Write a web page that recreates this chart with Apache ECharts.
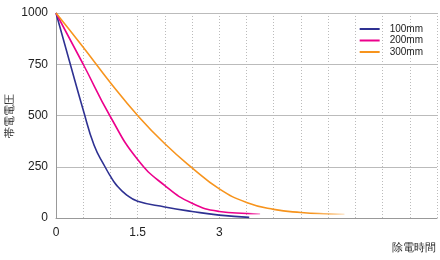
<!DOCTYPE html>
<html><head><meta charset="utf-8">
<script src="https://cdn.jsdelivr.net/npm/echarts@6/dist/echarts.min.js"></script>
<style>html,body{margin:0;padding:0;background:#fff}#c{width:440px;height:260px}</style>
</head><body><div id="c"></div>
<script>
const seriesNames = ['100mm', '200mm', '300mm'];
const xTickLabels = ['0', '1.5', '3'];
const yTickLabels = ['0', '250', '500', '750', '1000'];
const xAxisTitle = '除電時間';
const yAxisTitle = '帯電電圧';
const blue100 = [[0,1000],[0.25,762],[0.5,527],[0.7,355],[0.9,250],[1.0,204],[1.1,164],[1.3,112],[1.5,82],[2.0,54],[2.5,32],[3.0,14],[3.55,3]];
const magenta200 = [[0,1000],[0.5,750],[1.0,494],[1.5,285],[2.0,158],[2.5,72],[3.0,32],[3.5,22],[3.75,20]];
const orange300 = [[0,1000],[0.5,833],[1.0,660],[1.5,500],[2.0,362],[2.5,245],[3.0,142],[3.5,76],[4.0,42],[4.5,27],[5.0,20],[5.3,18]];

const colors = ['#2e3192', '#ec008c', '#f7941d'];
const font = "'Liberation Sans Narrow','Liberation Sans',sans-serif";
function fade(c, rgba, start) {
  return new echarts.graphic.LinearGradient(0, 0, 1, 0, [
    {offset: 0, color: c}, {offset: start, color: c}, {offset: 1, color: rgba}
  ]);
}
const chart = echarts.init(document.getElementById('c'), null, {renderer: 'canvas'});
chart.setOption({
  animation: false,
  backgroundColor: '#fff',
  grid: {left: 56, right: 3, top: 13, bottom: 42, containLabel: false, outerBoundsMode: 'none'},
  legend: {
    orient: 'vertical', right: 12, top: 19, itemGap: 1.5,
    itemWidth: 20, itemHeight: 2, icon: 'rect',
    textStyle: {fontSize: 10, fontFamily: font, color: '#222', padding: [0,0,0,5]},
    data: seriesNames
  },
  xAxis: {
    type: 'value', min: 0, max: 7, interval: 0.5,
    axisLine: {lineStyle: {color: '#999', width: 1}},
    axisTick: {show: false},
    axisLabel: {
      margin: 9, fontSize: 12, fontFamily: font, color: '#222',
      formatter: v => { const s = String(v); return xTickLabels.includes(s) ? s : ''; }
    },
    splitLine: {show: true, lineStyle: {color: '#bbb', type: [1, 2], width: 1}}
  },
  yAxis: {
    type: 'value', min: 0, max: 1000, interval: 250,
    name: yAxisTitle, nameLocation: 'middle', nameGap: 41, nameMoveOverlap: false,
    nameTextStyle: {fontSize: 11, fontFamily: font, color: '#222'},
    axisLine: {show: true, lineStyle: {color: '#999', width: 1}},
    axisTick: {show: false},
    axisLabel: {margin: 8, fontSize: 12, fontFamily: font, color: '#222',
      formatter: v => yTickLabels.includes(String(v)) ? String(v) : ''},
    splitLine: {show: true, lineStyle: {color: '#bbb', width: 1}}
  },
  graphic: [{
    type: 'text', right: 4, top: 242,
    style: {text: xAxisTitle, fontSize: 11, fontFamily: font, fill: '#222'}
  }],
  series: [
    {name: seriesNames[0], type: 'line', data: blue100, smooth: 0.5, showSymbol: false,
     color: colors[0], lineStyle: {width: 1.6, color: colors[0]}},
    {name: seriesNames[1], type: 'line', data: magenta200, smooth: 0.5, showSymbol: false,
     color: colors[1], lineStyle: {width: 1.6, color: fade(colors[1], 'rgba(236,0,140,0.15)', 0.93)}},
    {name: seriesNames[2], type: 'line', data: orange300, smooth: 0.5, showSymbol: false,
     color: colors[2], lineStyle: {width: 1.6, color: fade(colors[2], 'rgba(247,148,29,0.15)', 0.88)}}
  ]
});
</script>
</body></html>
